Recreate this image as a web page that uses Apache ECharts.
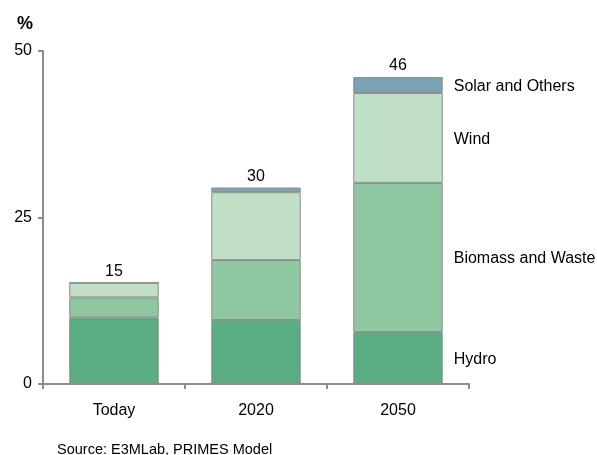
<!DOCTYPE html>
<html>
<head>
<meta charset="utf-8">
<script src="https://cdn.jsdelivr.net/npm/echarts@6/dist/echarts.min.js"></script>
<style>
  html, body { margin: 0; padding: 0; background: #fff; }
  #chart { width: 597px; height: 455px; }
</style>
</head>
<body>
<div id="chart"></div>
<script>
// Renewable share by source, in percent
const categories = ['Today', '2020', '2050'];
const hydro   = [10.0, 9.6, 7.8];
const biomass = [3.0, 9.0, 22.4];
const wind    = [2.2, 10.2, 13.5];
const solar   = [0, 0.7, 2.4];
const yTicks = [0, 25, 50];

const seriesDefs = [
  { name: 'Hydro', data: hydro, color: '#5aad82' },
  { name: 'Biomass and Waste', data: biomass, color: '#8fc7a0' },
  { name: 'Wind', data: wind, color: '#bfe0c6' },
  { name: 'Solar and Others', data: solar, color: '#7ba3b3' }
];

const totals = categories.map((_, i) =>
  seriesDefs.reduce((s, d) => s + d.data[i], 0));

const FONT = '"Liberation Sans", Arial, sans-serif';
const FS = 16;
const last = categories.length - 1;

const series = seriesDefs.map(d => ({
  name: d.name,
  type: 'bar',
  stack: 'share',
  barWidth: '63%',
  data: d.data.map((v, i) => ({
    value: v,
    label: i === last ? {
      show: true, position: 'right', distance: 11, offset: [0, 1.5],
      formatter: d.name, color: '#000', fontSize: FS, fontFamily: FONT
    } : { show: false }
  })),
  itemStyle: { color: d.color, borderColor: '#8c8c8c', borderWidth: 1 }
}));

// zero-height cap that carries the rounded total above each stack
series.push({
  name: 'Total',
  type: 'bar',
  stack: 'share',
  barWidth: '63%',
  data: totals.map(() => 0),
  itemStyle: { color: 'transparent', borderWidth: 0 },
  label: {
    show: true, position: 'top', distance: 3,
    formatter: p => String(Math.round(totals[p.dataIndex])),
    color: '#000', fontSize: FS, fontFamily: FONT
  },
  silent: true
});

const chart = echarts.init(document.getElementById('chart'), null, { renderer: 'canvas' });
chart.setOption({
  animation: false,
  backgroundColor: '#fff',
  textStyle: { fontFamily: FONT },
  grid: { left: 43, right: 128, top: 51, bottom: 71, containLabel: false },
  title: [
    { text: '%', left: 12, top: 10, textStyle: { fontSize: 18, fontWeight: 'bold', color: '#000', fontFamily: FONT } },
    { text: 'Source: E3MLab, PRIMES Model', left: 52, top: 437, textStyle: { fontSize: 14.5, fontWeight: 'normal', color: '#000', fontFamily: FONT } }
  ],
  xAxis: {
    type: 'category',
    data: categories,
    axisLine: { lineStyle: { color: '#8c8c8c', width: 2 } },
    axisTick: { show: true, length: 5, lineStyle: { color: '#8c8c8c', width: 2 } },
    axisLabel: { color: '#000', fontSize: FS, margin: 19, fontFamily: FONT }
  },
  yAxis: {
    type: 'value',
    min: yTicks[0],
    max: yTicks[yTicks.length - 1],
    interval: yTicks[1] - yTicks[0],
    axisLine: { show: true, lineStyle: { color: '#8c8c8c', width: 2 } },
    axisTick: { show: true, length: 5, lineStyle: { color: '#8c8c8c', width: 2 } },
    axisLabel: { color: '#000', fontSize: FS, margin: 11, fontFamily: FONT },
    splitLine: { show: false }
  },
  series: series
});
</script>
</body>
</html>
